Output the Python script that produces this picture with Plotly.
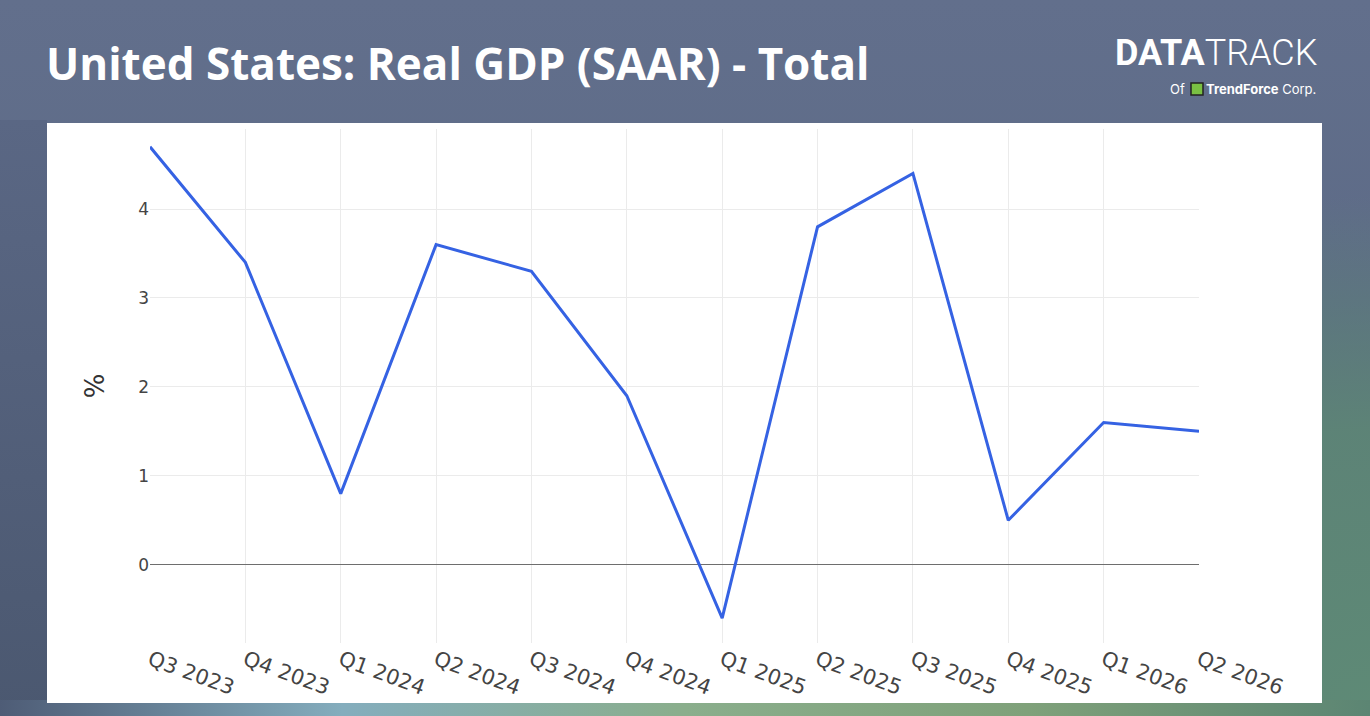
import plotly.graph_objects as go
import urllib.parse

# quarterly real GDP growth, SAAR (%)
quarters = ["Q3 2023", "Q4 2023", "Q1 2024", "Q2 2024", "Q3 2024", "Q4 2024",
            "Q1 2025", "Q2 2025", "Q3 2025", "Q4 2025", "Q1 2026", "Q2 2026"]
gdp_saar = [4.7, 3.4, 0.8, 3.6, 3.3, 1.9, -0.6, 3.8, 4.4, 0.5, 1.6, 1.5]
y_ticks = [0, 1, 2, 3, 4]

title_text = "United States: Real GDP (SAAR) - Total"

W, H = 1370, 716
L, R, T, B = 150, 171, 129, 73
pw, ph = W - L - R, H - T - B


def px(x):
    # pixel column -> paper x
    return (x - L) / pw


def py(y):
    # pixel row -> paper y
    return (H - B - y) / ph


# backdrop: slate blue, green toward the bottom right, teal/green strip at the bottom
bg_svg = """<svg xmlns='http://www.w3.org/2000/svg' width='1370' height='716' preserveAspectRatio='none'>
<defs>
<linearGradient id='a' x1='0' y1='0' x2='0' y2='1'>
<stop offset='0' stop-color='#626f8c'/>
<stop offset='1' stop-color='#56657f'/>
</linearGradient>
<radialGradient id='b' gradientUnits='userSpaceOnUse' cx='1370' cy='716' r='520'>
<stop offset='0' stop-color='#5e8a76' stop-opacity='1'/>
<stop offset='0.55' stop-color='#5d8675' stop-opacity='0.9'/>
<stop offset='1' stop-color='#5d8675' stop-opacity='0'/>
</radialGradient>
<linearGradient id='c' x1='0' y1='0' x2='1' y2='0'>
<stop offset='0' stop-color='#4e5c76'/>
<stop offset='0.25' stop-color='#84adbd'/>
<stop offset='0.5' stop-color='#8aae8c'/>
<stop offset='0.75' stop-color='#7fa17a'/>
<stop offset='1' stop-color='#5c8573'/>
</linearGradient>
<linearGradient id='d' x1='0' y1='0' x2='0' y2='1'>
<stop offset='0' stop-color='#5a6784'/>
<stop offset='1' stop-color='#4b5870'/>
</linearGradient>
</defs>
<rect width='1370' height='716' fill='url(#a)'/>
<rect width='1370' height='716' fill='url(#b)'/>
<rect x='0' y='120' width='47' height='596' fill='url(#d)'/>
<rect x='0' y='700' width='1370' height='16' fill='url(#c)'/>
</svg>"""
bg_uri = "data:image/svg+xml;charset=utf-8," + urllib.parse.quote(bg_svg)

fig = go.Figure()
fig.add_trace(go.Scatter(x=quarters, y=gdp_saar, mode="lines",
                         line=dict(color="#3562e3", width=3),
                         showlegend=False))

fig.add_layout_image(dict(source=bg_uri, xref="paper", yref="paper",
                          x=px(0), y=py(0), sizex=W / pw, sizey=H / ph,
                          xanchor="left", yanchor="top", sizing="stretch",
                          layer="below"))

# white chart panel
fig.add_shape(type="rect", xref="paper", yref="paper",
              x0=px(47), x1=px(1322), y0=py(703), y1=py(123),
              fillcolor="white", line=dict(width=0), layer="below")

# title
fig.add_annotation(text="<b>" + title_text + "</b>", xref="paper", yref="paper",
                   x=px(44), y=py(63), xanchor="left", yanchor="middle",
                   showarrow=False, font=dict(family="Open Sans", size=44, color="white"))

# logo
fig.add_annotation(text="<b>DATA</b><span style='font-weight:300'>TRACK</span>",
                   xref="paper", yref="paper",
                   x=px(1320), y=py(53), xanchor="right", yanchor="middle",
                   showarrow=False,
                   font=dict(family="Roboto", size=36, color="white"))
fig.add_annotation(text="Of", xref="paper", yref="paper",
                   x=px(1168), y=py(89), xanchor="left", yanchor="middle",
                   showarrow=False, font=dict(family="Inter", size=13, color="white"))
fig.add_shape(type="rect", xref="paper", yref="paper",
              x0=px(1191), x1=px(1203), y0=py(95), y1=py(83),
              fillcolor="#7ac043", line=dict(color="#222", width=1.5))
fig.add_annotation(text="<b>TrendForce</b> Corp.", xref="paper", yref="paper",
                   x=px(1204), y=py(89), xanchor="left", yanchor="middle",
                   showarrow=False, font=dict(family="Inter", size=13, color="white"))

fig.update_layout(
    width=W, height=H,
    margin=dict(l=L, r=R, t=T, b=B),
    paper_bgcolor="#5b6886",
    plot_bgcolor="white",
    font=dict(family="DejaVu Sans", color="#444"),
)
fig.update_xaxes(
    type="category", tickangle=20, showgrid=True, gridcolor="#ebebeb",
    tickfont=dict(size=21, color="#444"), range=[0, len(quarters) - 1],
    ticks="", showline=False, zeroline=False,
)
fig.update_yaxes(
    range=[-0.88, 4.9], tickvals=y_ticks, showgrid=True, gridcolor="#ebebeb",
    zeroline=True, zerolinecolor="#6e6e6e", zerolinewidth=1,
    tickfont=dict(size=17, color="#444"),
    title=dict(text="%", font=dict(size=26, color="#333"), standoff=26),
)

# drop the default page margin so the figure sits at the window corner
fig.write_html("out.html", config={"displayModeBar": False},
               post_script="document.body.style.margin='0';")
